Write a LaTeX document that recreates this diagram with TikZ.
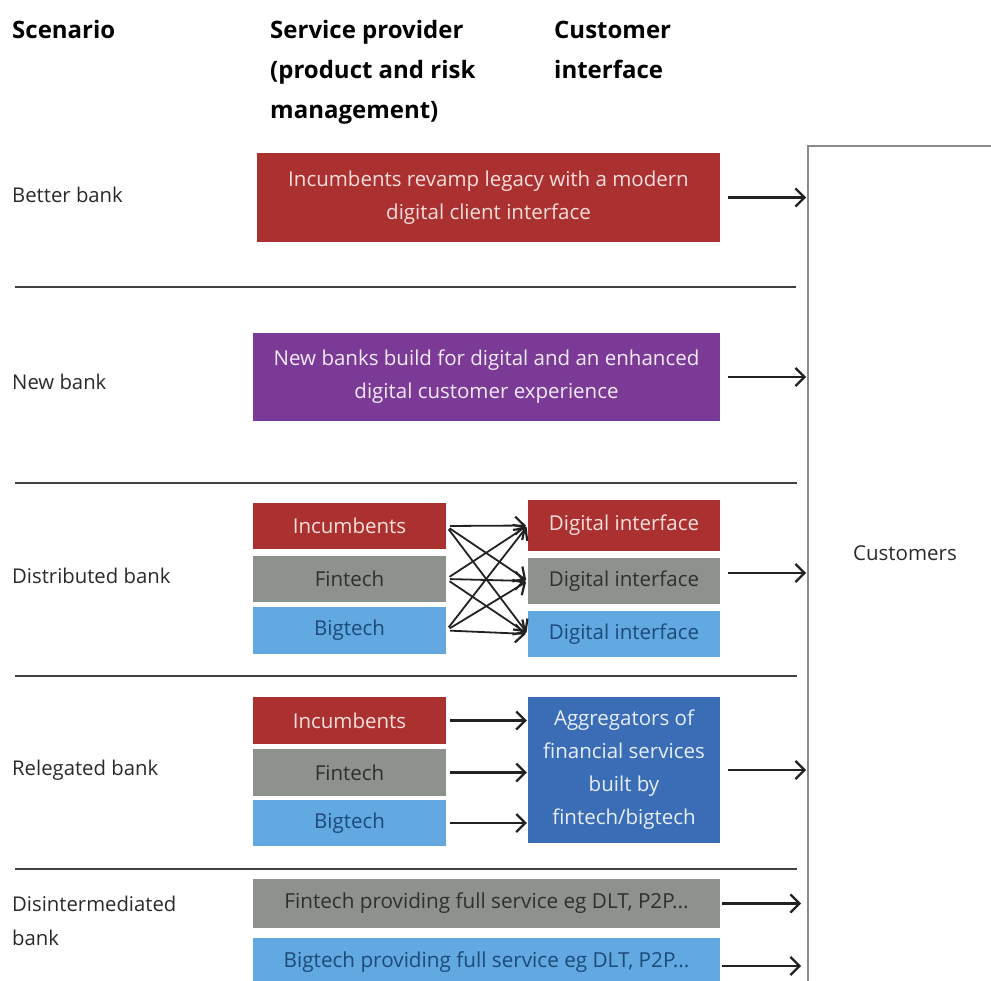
\documentclass[tikz,border=0pt]{standalone}
\usepackage{fontspec}
\setmainfont{Open Sans}
\usetikzlibrary{arrows.meta}
\definecolor{cred}{HTML}{AB3131}
\definecolor{credtxt}{HTML}{F6DEDC}
\definecolor{cpurple}{HTML}{7B3A96}
\definecolor{cpurpletxt}{HTML}{F2EAF4}
\definecolor{cgray}{HTML}{8E928D}
\definecolor{cgraytxt}{HTML}{2E302E}
\definecolor{clblue}{HTML}{61A9E0}
\definecolor{clbluetxt}{HTML}{1C4A7A}
\definecolor{cdblue}{HTML}{3B6DB6}
\definecolor{cdbluetxt}{HTML}{E6EEF8}
\definecolor{sepc}{HTML}{404040}
\definecolor{custc}{HTML}{8A8A8A}
\definecolor{arrc}{HTML}{222222}
\definecolor{labc}{HTML}{2A2A2A}
\begin{document}
\begin{tikzpicture}[x=1pt,y=-1pt,
  box/.style={draw=none, inner sep=0pt, align=center, font=\fontsize{20.5}{33}\selectfont},
  redbox/.style={box, fill=cred, text=credtxt},
  purplebox/.style={box, fill=cpurple, text=cpurpletxt},
  graybox/.style={box, fill=cgray, text=cgraytxt},
  lbluebox/.style={box, fill=clblue, text=clbluetxt},
  dbluebox/.style={box, fill=cdblue, text=cdbluetxt},
  widefont/.style={font=\fontsize{20.7}{33}\selectfont},
  arr/.style={-{Straight Barb[length=9pt,width=18pt,line width=2.2pt]}, line width=2.2pt, draw=arrc},
  sepline/.style={line width=1.5pt, draw=sepc},
  lab/.style={anchor=base west, inner sep=0pt, align=left, font=\fontsize{20.3}{34}\selectfont, text=labc},
  head/.style={anchor=base west, inner sep=0pt, align=left, font=\bfseries\fontsize{24}{40}\selectfont, text=black}]
\useasboundingbox (0,0) rectangle (991,981);

% headers (base anchor = last line)
\node[head] (hscen) at (12,39) {Scenario};
\node[head] (hserv) at (270,119) {Service provider\\(product and risk\\management)};
\node[head] (hcust) at (554,79) {Customer\\interface};

% customers box
\node[draw=custc, line width=2pt, minimum width=220pt, minimum height=860pt, anchor=north west, inner sep=0pt] (cust) at (807,145) {};
\node[inner sep=0pt, font=\fontsize{20.5}{34}\selectfont, text=labc] (custtxt) at (905,553) {Customers};

% row labels
\node[lab] (lbetter) at (12,203) {Better bank};
\node[lab] (lnew) at (12,390) {New bank};
\node[lab] (ldist) at (12,583) {Distributed bank};
\node[lab] (lrel) at (12,775) {Relegated bank};
\node[lab] (ldis) at (12,945) {Disintermediated\\bank};

% separators
\coordinate (s1a) at (15,287); \coordinate (s1b) at (796,287);
\coordinate (s2a) at (15,483); \coordinate (s2b) at (797,483);
\coordinate (s3a) at (15,676); \coordinate (s3b) at (797,676);
\coordinate (s4a) at (15,869); \coordinate (s4b) at (797,869);
\draw[sepline] (s1a) -- (s1b);
\draw[sepline] (s2a) -- (s2b);
\draw[sepline] (s3a) -- (s3b);
\draw[sepline] (s4a) -- (s4b);

% better bank
\node[redbox, minimum width=463pt, minimum height=89pt] (better) at (488.5,197.5) {Incumbents revamp legacy with a modern\\digital client interface};
% new bank
\node[purplebox, minimum width=467pt, minimum height=88pt] (new) at (486.5,377) {New banks build for digital and an enhanced\\digital customer experience};

% distributed bank
\node[redbox, minimum width=193pt, minimum height=46pt] (dinc) at (349.5,526) {Incumbents};
\node[graybox, minimum width=193pt, minimum height=46pt] (dfin) at (349.5,579) {Fintech};
\node[lbluebox, minimum width=193pt, minimum height=47pt] (dbig) at (349.5,630.5) {Bigtech};
\node[redbox, minimum width=192pt, minimum height=51pt] (di1) at (624,525.5) {Digital interface};
\node[graybox, minimum width=192pt, minimum height=46pt] (di2) at (624,581) {Digital interface};
\node[lbluebox, minimum width=192pt, minimum height=46pt] (di3) at (624,634) {Digital interface};

% relegated bank
\node[redbox, minimum width=193pt, minimum height=47pt] (rinc) at (349.5,720.5) {Incumbents};
\node[graybox, minimum width=193pt, minimum height=47pt] (rfin) at (349.5,772.5) {Fintech};
\node[lbluebox, minimum width=193pt, minimum height=46pt] (rbig) at (349.5,823) {Bigtech};
\node[dbluebox, minimum width=192pt, minimum height=146pt] (agg) at (624,770) {Aggregators of\\financial services\\built by\\fintech/bigtech};

% disintermediated bank
\node[graybox, widefont, minimum width=467pt, minimum height=49pt] (dfull) at (486.5,903.5) {Fintech providing full service eg DLT, P2P...};
\node[lbluebox, widefont, minimum width=467pt, minimum height=48pt] (bfull) at (486.5,962) {Bigtech providing full service eg DLT, P2P...};

% arrows to customers
\draw[arr, shorten <=8pt, shorten >=1pt] (better.east) -- (better.east -| cust.west);
\draw[arr, shorten <=8pt, shorten >=1pt] (new.east) -- (new.east -| cust.west);
\draw[arr, shorten <=8pt, shorten >=1pt] (di2.east) ++(0,-8) coordinate (di2o) (di2o) -- (di2o -| cust.west);
\draw[arr, shorten <=8pt, shorten >=1pt] (agg.east) -- (agg.east -| cust.west);
\draw[arr, shorten <=2pt, shorten >=6pt] (dfull.east) -- (dfull.east -| cust.west);
\draw[arr, shorten <=2pt, shorten >=6pt] (bfull.east) ++(0,4) coordinate (bfullo) (bfullo) -- (bfullo -| cust.west);

% crossing arrows
\foreach \a in {dinc,dfin,dbig}{
  \foreach \b in {di1,di2,di3}{
    \draw[arr, line width=1.8pt, shorten <=4pt, shorten >=2pt] (\a.east) -- (\b.west);
  }
}

% relegated arrows
\draw[arr, shorten <=4pt, shorten >=1pt] (rinc.east) -- (rinc.east -| agg.west);
\draw[arr, shorten <=4pt, shorten >=1pt] (rfin.east) -- (rfin.east -| agg.west);
\draw[arr, shorten <=4pt, shorten >=1pt] (rbig.east) -- (rbig.east -| agg.west);
\end{tikzpicture}
\end{document}
